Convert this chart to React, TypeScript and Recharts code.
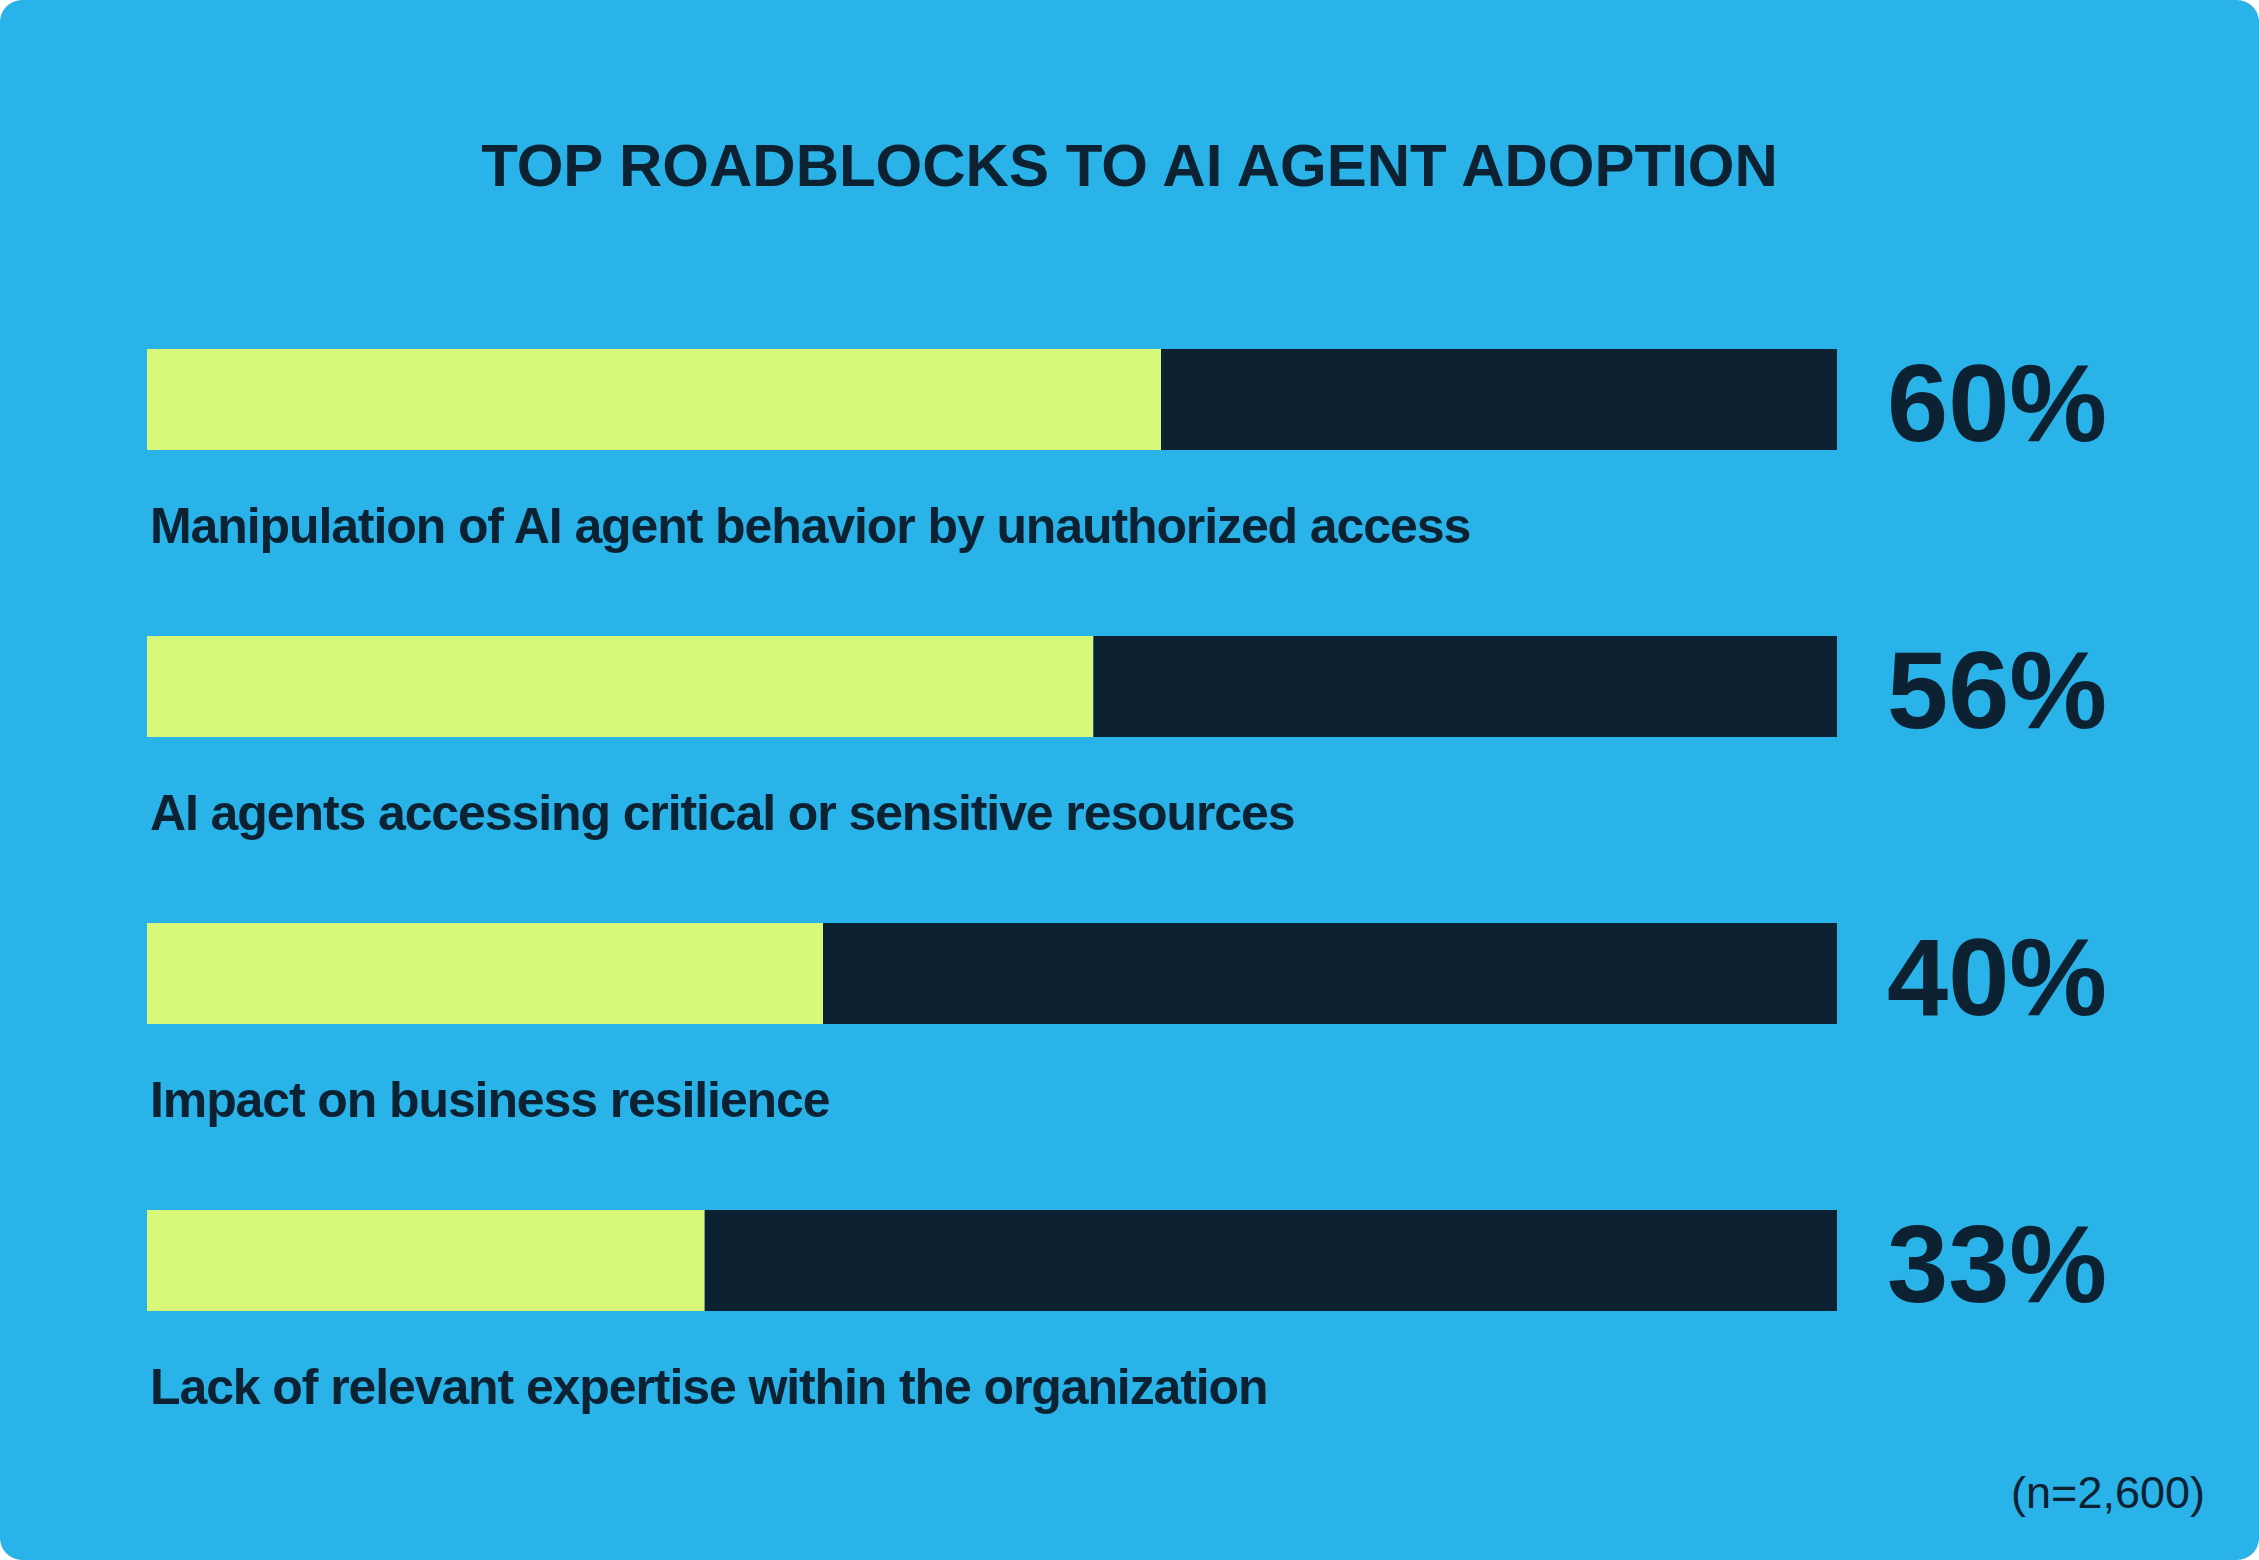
import React from "react";
import { BarChart, Bar, XAxis, YAxis, LabelList } from "recharts";

const categories = [
  "Manipulation of AI agent behavior by unauthorized access",
  "AI agents accessing critical or sensitive resources",
  "Impact on business resilience",
  "Lack of relevant expertise within the organization",
];
const shares = [60, 56, 40, 33];
const title = "TOP ROADBLOCKS TO AI AGENT ADOPTION";
const sampleNote = "(n=2,600)";

const BG = "#29B3E8";
const GREEN = "#D8F87A";
const NAVY = "#0C2233";
const FONT = "'Liberation Sans', Arial, sans-serif";

const rows = categories.map((name, i) => ({
  name,
  value: shares[i],
  rest: 100 - shares[i],
}));

function NameLabel(props: any) {
  const { x, y, height, value } = props;
  return (
    <text
      x={Number(x) + 3}
      y={Number(y) + Number(height) + 93}
      fill={NAVY}
      fontFamily={FONT}
      fontWeight={700}
      fontSize={50}
      letterSpacing={-1.1}
    >
      {value}
    </text>
  );
}

function PctLabel(props: any) {
  const { x, y, width, height, value } = props;
  return (
    <text
      x={Number(x) + Number(width) + 50}
      y={Number(y) + Number(height) / 2 + 41}
      fill={NAVY}
      fontFamily={FONT}
      fontWeight={700}
      fontSize={110}
    >
      {value}%
    </text>
  );
}

export default function App() {
  return (
    <div
      style={{
        position: "absolute",
        top: 0,
        left: 0,
        width: 2259,
        height: 1560,
        background: BG,
        borderRadius: 22,
        overflow: "hidden",
        fontFamily: FONT,
      }}
    >
      <div
        style={{
          position: "absolute",
          top: 136,
          left: 0,
          width: 2259,
          textAlign: "center",
          fontSize: 60,
          lineHeight: "60px",
          fontWeight: 700,
          color: NAVY,
        }}
      >
        {title}
      </div>
      <BarChart
        width={2259}
        height={1560}
        data={rows}
        layout="vertical"
        margin={{ top: 256, right: 422, bottom: 156, left: 147 }}
        barCategoryGap={0}
        style={{ position: "absolute", top: 0, left: 0 }}
      >
        <XAxis type="number" domain={[0, 100]} hide />
        <YAxis type="category" dataKey="name" hide />
        <Bar dataKey="value" stackId="a" fill={GREEN} barSize={101} isAnimationActive={false}>
          <LabelList dataKey="name" content={NameLabel} />
        </Bar>
        <Bar dataKey="rest" stackId="a" fill={NAVY} barSize={101} isAnimationActive={false}>
          <LabelList dataKey="value" content={PctLabel} />
        </Bar>
      </BarChart>
      <div
        style={{
          position: "absolute",
          top: 1470,
          right: 54,
          fontSize: 45,
          lineHeight: "45px",
          color: NAVY,
        }}
      >
        {sampleNote}
      </div>
    </div>
  );
}
